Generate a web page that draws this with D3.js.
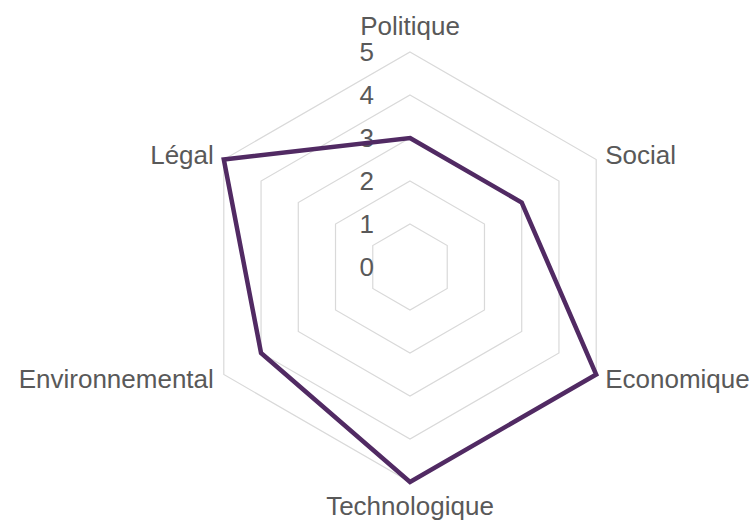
<!DOCTYPE html>
<html>
<head>
<meta charset="utf-8">
<style>
body { margin: 0; background: #fff; }
text { font-family: "Liberation Sans", Arial, sans-serif; fill: #595959; }
.grid { fill: none; stroke: #d9d9d9; stroke-width: 1.2px; }
.series { fill: none; stroke: #512a63; stroke-width: 4.5px; stroke-linejoin: miter; }
</style>
</head>
<body>
<script src="https://cdn.jsdelivr.net/npm/d3@7"></script>
<script>
var width = 755, height = 520;
var cx = 410, cy = 267;

var categories = ["Politique", "Social", "Economique", "Technologique", "Environnemental", "Légal"];
var values = [3, 3, 5, 5, 4, 5];
var tickValues = [0, 1, 2, 3, 4, 5];

var svg = d3.select("body").append("svg")
  .attr("width", width)
  .attr("height", height);

var g = svg.append("g").attr("transform", "translate(" + cx + "," + cy + ")");

// radius scale, 0 at the centre
var r = d3.scaleLinear().domain([0, 5]).range([0, 215]);
var angle = d3.scalePoint().domain(categories).range([0, 2 * Math.PI * 5 / 6]);

function pt(cat, v) {
  var a = angle(cat);
  return [r(v) * Math.sin(a), -r(v) * Math.cos(a)];
}

var line = d3.line().curve(d3.curveLinearClosed);

// hexagon gridlines
g.selectAll(".grid")
  .data(tickValues.filter(function(d) { return d > 0; }))
  .enter().append("path")
  .attr("class", "grid")
  .attr("d", function(v) { return line(categories.map(function(c) { return pt(c, v); })); });

// tick labels
g.selectAll(".tick")
  .data(tickValues)
  .enter().append("text")
  .attr("class", "tick")
  .attr("x", -36)
  .attr("y", function(d) { return -r(d); })
  .attr("dy", "0.36em")
  .attr("text-anchor", "end")
  .style("font-size", "26px")
  .text(function(d) { return d; });

// data line
g.append("path")
  .attr("class", "series")
  .attr("d", line(categories.map(function(c, i) { return pt(c, values[i]); })));

// category labels
g.selectAll(".cat")
  .data(categories)
  .enter().append("text")
  .attr("class", "cat")
  .style("font-size", "26px")
  .attr("text-anchor", function(c) {
    var s = Math.sin(angle(c));
    return Math.abs(s) < 0.01 ? "middle" : (s > 0 ? "start" : "end");
  })
  .attr("x", function(c) {
    var p = pt(c, 5), s = Math.sin(angle(c));
    return Math.abs(s) < 0.01 ? p[0] : p[0] + (s > 0 ? 9 : -10);
  })
  .attr("y", function(c) {
    var p = pt(c, 5), co = Math.cos(angle(c));
    if (co > 0.99) return p[1] - 17;
    if (co < -0.99) return p[1] + 33;
    return co > 0 ? p[1] + 4 : p[1] + 13;
  })
  .text(function(c) { return c; });
</script>
</body>
</html>
